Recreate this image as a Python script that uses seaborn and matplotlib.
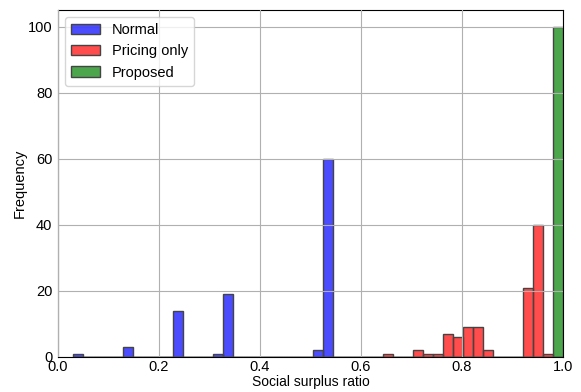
import numpy as np
import pandas as pd
import matplotlib
matplotlib.use("Agg")
import matplotlib.pyplot as plt
import seaborn as sns

# Histogram data (bin index on a shared 49-bin grid from 0.03 to 1.0)
bin_lo, bin_hi, n_bins = 0.03, 1.0, 49
normal_bins = [0, 5, 10, 14, 15, 24, 25]
normal_counts = [1, 3, 14, 1, 19, 2, 60]
pricing_bins = [31, 34, 35, 36, 37, 38, 39, 40, 41, 45, 46, 47]
pricing_counts = [1, 2, 1, 1, 7, 6, 9, 9, 2, 21, 40, 1]
proposed_bins = [48]
proposed_counts = [100]
series_names = ["Normal", "Pricing only", "Proposed"]
series_colors = ["blue", "red", "green"]

plt.rcParams['font.family'] = ['Liberation Sans', 'DejaVu Sans']

edges = np.linspace(bin_lo, bin_hi, n_bins + 1)
centers = (edges[:-1] + edges[1:]) / 2

fig = plt.figure(figsize=(5.81, 3.92), dpi=100)
ax = fig.add_axes([58/581, 1-357/392, (563-58)/581, (357-10)/392])

for name, idx, cnt, col in zip(series_names,
                               [normal_bins, pricing_bins, proposed_bins],
                               [normal_counts, pricing_counts, proposed_counts],
                               series_colors):
    df = pd.DataFrame({"x": centers[idx], "w": cnt})
    sns.histplot(data=df, x="x", weights="w", bins=list(edges), color=col,
                 alpha=0.7, edgecolor="#444444", linewidth=1.0, label=name, ax=ax)

ax.set_xlim(0, 1.0)
ax.set_ylim(0, 105)
ax.set_yticks([0, 20, 40, 60, 80, 100])
ax.grid(True, color="#b0b0b0", linewidth=0.8)
ax.set_axisbelow(False)
ax.set_xlabel("Social surplus ratio", fontsize=10, labelpad=1)
ax.set_ylabel("Frequency", fontsize=10.5, labelpad=1)
ax.tick_params(axis="x", labelsize=10.5, length=0, pad=2)
ax.tick_params(axis="y", labelsize=10.5, length=0, pad=4)
ax.legend(loc="upper left", fontsize=10.5)

fig.savefig("out.png", dpi=100)
